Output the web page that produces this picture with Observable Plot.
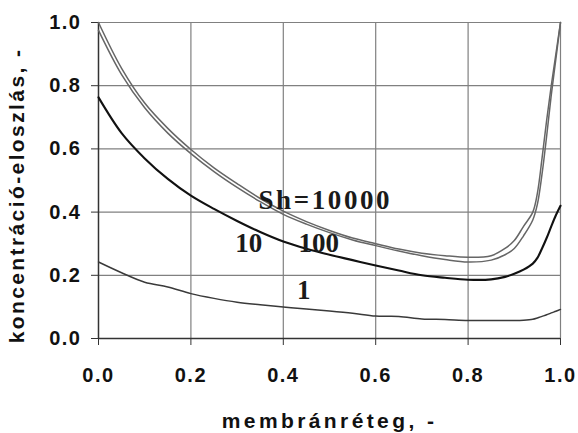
<!DOCTYPE html>
<html>
<head>
<meta charset="utf-8">
<script src="https://cdn.jsdelivr.net/npm/d3@7"></script>
<script src="https://cdn.jsdelivr.net/npm/@observablehq/plot@0.6"></script>
<style>
  html, body { margin: 0; padding: 0; background: #fff; }
</style>
</head>
<body>
<div id="chart"></div>
<script>
// membrane position (shared x grid)
const xPos = [0, 0.05, 0.1, 0.15, 0.2, 0.25, 0.3, 0.35, 0.4, 0.45, 0.5, 0.55, 0.6, 0.65, 0.7, 0.75, 0.8, 0.85,
              0.88, 0.9, 0.92, 0.94, 0.95, 0.96, 0.97, 0.98, 0.99, 1.0];
// concentration profiles
const sh10000 = [1.0, 0.855, 0.745, 0.665, 0.598, 0.54, 0.49, 0.443, 0.403, 0.37, 0.342, 0.318, 0.300, 0.283, 0.270, 0.262, 0.257, 0.262,
                 0.285, 0.31, 0.355, 0.40, 0.46, 0.57, 0.69, 0.80, 0.90, 1.0];
const sh100   = [0.975, 0.835, 0.73, 0.65, 0.585, 0.528, 0.478, 0.433, 0.393, 0.362, 0.335, 0.312, 0.294, 0.277, 0.262, 0.25, 0.242, 0.248,
                 0.265, 0.285, 0.325, 0.375, 0.425, 0.52, 0.64, 0.77, 0.885, 1.0];
const sh10    = [0.763, 0.65, 0.57, 0.505, 0.452, 0.41, 0.372, 0.337, 0.307, 0.284, 0.265, 0.248, 0.231, 0.215, 0.2, 0.192, 0.186, 0.187,
                 0.195, 0.205, 0.218, 0.237, 0.255, 0.285, 0.318, 0.355, 0.39, 0.42];
const sh1     = [0.242, 0.208, 0.178, 0.163, 0.142, 0.127, 0.115, 0.107, 0.1, 0.093, 0.087, 0.08, 0.071, 0.07, 0.062, 0.06, 0.057, 0.057,
                 0.057, 0.057, 0.058, 0.061, 0.065, 0.07, 0.075, 0.081, 0.086, 0.092];

const tickValues = [0, 0.2, 0.4, 0.6, 0.8, 1.0];
const curveLabels = ["Sh=10000", "10", "100", "1"];
const labelX = [0.491, 0.325, 0.477, 0.444];
const labelY = [0.411, 0.273, 0.273, 0.126];
const xTitle = "membránréteg, -";
const yTitle = "koncentráció-eloszlás, -";

const rows = (ys) => xPos.map((x, i) => ({x, y: ys[i]}));
const labels = curveLabels.map((t, i) => ({t, x: labelX[i], y: labelY[i]}));

const sans = "'Liberation Sans', Arial, sans-serif";
const serif = "'Liberation Serif', 'Times New Roman', serif";

const plot = Plot.plot({
  width: 578,
  height: 433,
  marginLeft: 98,
  marginRight: 18,
  marginTop: 22,
  marginBottom: 95,
  style: {fontFamily: sans, background: "#fff", overflow: "visible"},
  x: {domain: [0, 1]},
  y: {domain: [0, 1]},
  marks: [
    Plot.gridX(tickValues, {stroke: "#808080", strokeOpacity: 1, strokeWidth: 1.2}),
    Plot.gridY(tickValues, {stroke: "#808080", strokeOpacity: 1, strokeWidth: 1.2}),
    Plot.ruleX([0], {stroke: "#333", strokeWidth: 1.4}),
    Plot.ruleY([0], {stroke: "#333", strokeWidth: 1.4}),
    Plot.axisX({ticks: tickValues, tickFormat: d3.format(".1f"), tickSize: 7, tickPadding: 22,
                fontSize: 20, fontWeight: "bold", fontFamily: sans, stroke: "#333", fill: "#111", label: null}),
    Plot.axisY({ticks: tickValues, tickFormat: d3.format(".1f"), tickSize: 7, tickPadding: 10,
                fontSize: 20, fontWeight: "bold", fontFamily: sans, stroke: "#333", fill: "#111", label: null}),
    Plot.line(rows(sh1), {x: "x", y: "y", stroke: "#3a3a3a", strokeWidth: 1.5, curve: "catmull-rom"}),
    Plot.line(rows(sh10), {x: "x", y: "y", stroke: "#111", strokeWidth: 2.1, curve: "catmull-rom"}),
    Plot.line(rows(sh100), {x: "x", y: "y", stroke: "#666", strokeWidth: 1.5, curve: "catmull-rom"}),
    Plot.line(rows(sh10000), {x: "x", y: "y", stroke: "#666", strokeWidth: 1.5, curve: "catmull-rom"}),
    Plot.text(labels, {x: "x", y: "y", text: "t", textAnchor: "middle", lineAnchor: "bottom",
                       fontFamily: serif, fontWeight: "bold", fontSize: 27, fill: "#1a1a1a"}),
    Plot.text([xTitle], {frameAnchor: "bottom", dy: 89, textAnchor: "middle", lineAnchor: "bottom",
                         fontFamily: sans, fontWeight: "bold", fontSize: 21, fill: "#111"}),
    Plot.text([yTitle], {frameAnchor: "left", rotate: -90, dx: -75, dy: 15, textAnchor: "middle", lineAnchor: "bottom",
                         fontFamily: sans, fontWeight: "bold", fontSize: 21, fill: "#111"})
  ]
});

const sel = d3.select(plot);
sel.selectAll("text").each(function () {
  const s = this.textContent;
  if (s === xTitle) this.style.letterSpacing = "3.4px";
  else if (s === yTitle) this.style.letterSpacing = "2.4px";
  else if (s === "Sh=10000") this.style.letterSpacing = "2.6px";
  else if (/^\d\.\d$/.test(s)) this.style.letterSpacing = "1.5px";
});
document.getElementById("chart").appendChild(plot);
</script>
</body>
</html>
